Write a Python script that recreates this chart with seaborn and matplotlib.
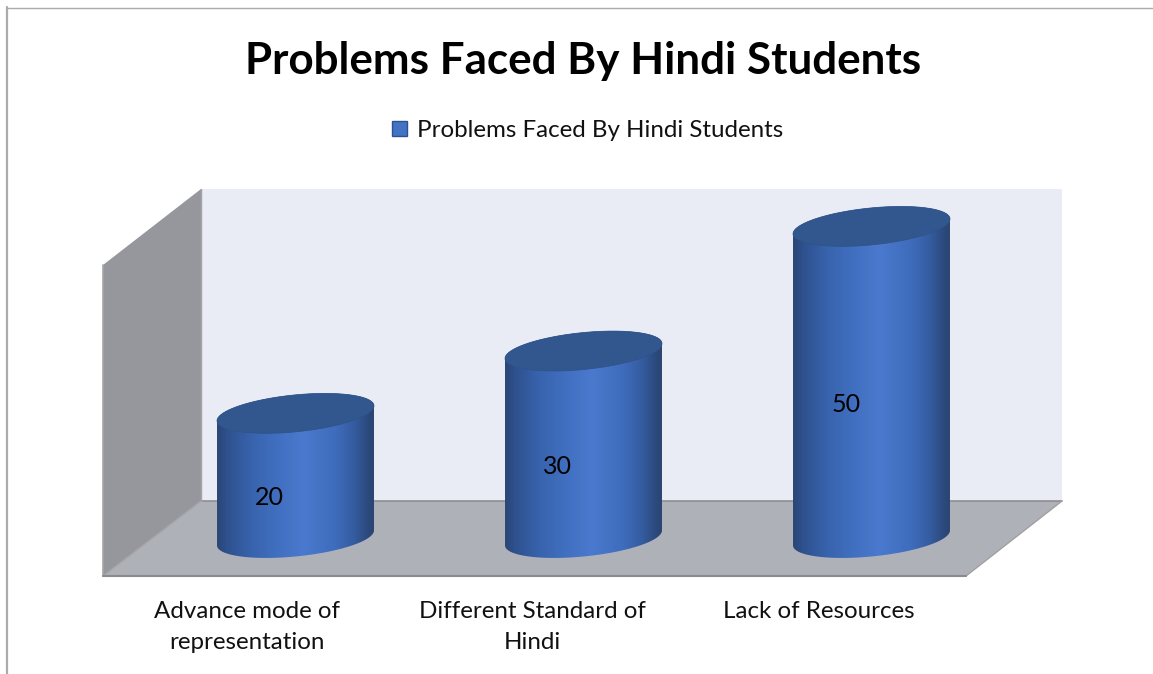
import numpy as np
import pandas as pd
import seaborn as sns
import matplotlib.pyplot as plt
from matplotlib.colors import LinearSegmentedColormap
from matplotlib.patches import Polygon
from matplotlib.transforms import ScaledTranslation

W, H = 1153, 674

# data
categories = ['Advance mode of\nrepresentation', 'Different Standard of\nHindi', 'Lack of Resources']
values = [20, 30, 50]
series_name = 'Problems Faced By Hindi Students'

sns.set_theme(style='white')
plt.rcParams['font.family'] = ['Lato', 'DejaVu Sans']

fig = plt.figure(figsize=(W / 100, H / 100), dpi=100, facecolor='white')

# background axes in pixels, only for the walls, floor and frame
bg = fig.add_axes([0, 0, 1, 1])
bg.set_xlim(0, W)
bg.set_ylim(H, 0)
bg.axis('off')
bg.add_patch(Polygon([(201, 189), (1062, 189), (1062, 501), (201, 501)], fc='#E9EBF5', ec='none'))
bg.add_patch(Polygon([(103, 265), (201, 189), (201, 501), (103, 576)], fc='#96969D', ec='none'))
bg.add_patch(Polygon([(201, 501), (1062, 501), (966, 576), (103, 576)], fc='#AFB1B9', ec='none'))
bg.plot([201, 1062], [501, 501], color='#8E8E8E', lw=1.2)
bg.plot([1062, 966], [501, 576], color='#A0A0A0', lw=1)
bg.plot([103, 201], [576, 501], color='#A5A5A8', lw=1)
bg.plot([201, 201], [189, 501], color='#A3A3A8', lw=1)
bg.plot([103, 103], [265, 576], color='#A5A5A5', lw=1.2)
bg.plot([103, 966], [576, 576], color='#8A8A8A', lw=1.5)
bg.plot([7, 7], [7, H], color='#ABABAB', lw=1.6)
bg.plot([7, W], [7.5, 7.5], color='#ABABAB', lw=1)

# main axes, value 0 sits at pixel y=538 with 6.233 px per unit
y_low, y_high = -6.1, 56
ax = fig.add_axes([151.5 / W, 1 - 576 / H, 864 / W, (576 - 189) / H])
ax.patch.set_visible(False)

df = pd.DataFrame({'category': categories, 'value': values})
sns.barplot(data=df, x='category', y='value', color='#4472C4', saturation=1, width=0.545,
            edgecolor='#2F528F', linewidth=1, label=series_name, ax=ax)

leg = ax.legend(loc='center', bbox_to_anchor=(587.5 / W, 1 - 130.5 / H), bbox_transform=fig.transFigure,
                frameon=False, fontsize=17.4, handlelength=0.62, handleheight=0.62, handletextpad=0.42,
                borderpad=0, labelcolor='#111111')

side_cmap = LinearSegmentedColormap.from_list('side', [
    (0.0, '#2A4674'), (0.07, '#2F5290'), (0.2, '#3761AA'), (0.35, '#3F6DBD'), (0.55, '#4A79CE'),
    (0.75, '#3F6DBD'), (0.88, '#345B9E'), (0.96, '#2C4A7E'), (1.0, '#2A4470')])
gradient = np.linspace(0, 1, 256).reshape(1, -1)

tilt = 1.2  # how far the ellipses lean, in value units
minor = 2.97  # ellipse half height, in value units
t_low = np.linspace(np.pi, 2 * np.pi, 80)
t_up = np.linspace(0, np.pi, 80)
for bar, v in zip(list(ax.patches), values):
    bar.set_visible(False)
    left = bar.get_x()
    width = bar.get_width()
    xc = left + width / 2
    a = width / 2
    low = np.c_[xc + a * np.cos(t_low), tilt * np.cos(t_low) + minor * np.sin(t_low)]
    up = np.c_[xc + a * np.cos(t_up), v + tilt * np.cos(t_up) + minor * np.sin(t_up)]
    body = Polygon(np.vstack([low, up]), transform=ax.transData, fc='none', ec='none')
    ax.add_patch(body)
    im = ax.imshow(gradient, cmap=side_cmap, extent=(left, left + width, -minor - tilt - 1, v + minor + tilt + 1),
                   aspect='auto', zorder=2)
    im.set_clip_path(body)
    t = np.linspace(0, 2 * np.pi, 200)
    ax.add_patch(Polygon(np.c_[xc + a * np.cos(t), v + tilt * np.cos(t) + minor * np.sin(t)],
                         fc='#32578F', ec='#2F5288', lw=0.5, zorder=3))
    ax.annotate(str(v), xy=(xc, v / 2), xytext=(-18.5, -16), textcoords='offset points',
                ha='center', va='center', fontsize=18, color='black', zorder=4)

ax.set_xlim(-0.5, 2.5)
ax.set_ylim(y_low, y_high)
ax.set_xlabel('')
ax.set_ylabel('')
ax.set_yticks([])
sns.despine(ax=ax, left=True, bottom=True)
ax.tick_params(axis='x', length=0, pad=18.2, labelsize=17.4, labelcolor='#111111')
for lab, dx in zip(ax.get_xticklabels(), [-49, -51, -53]):
    lab.set_transform(lab.get_transform() + ScaledTranslation(dx / 100, 0, fig.dpi_scale_trans))
    lab.set_linespacing(1.55)

fig.text(583 / W, 1 - 61 / H, series_name, ha='center', va='center', fontsize=31.7, fontweight='bold', color='black')

fig.savefig('out.png', dpi=100)
